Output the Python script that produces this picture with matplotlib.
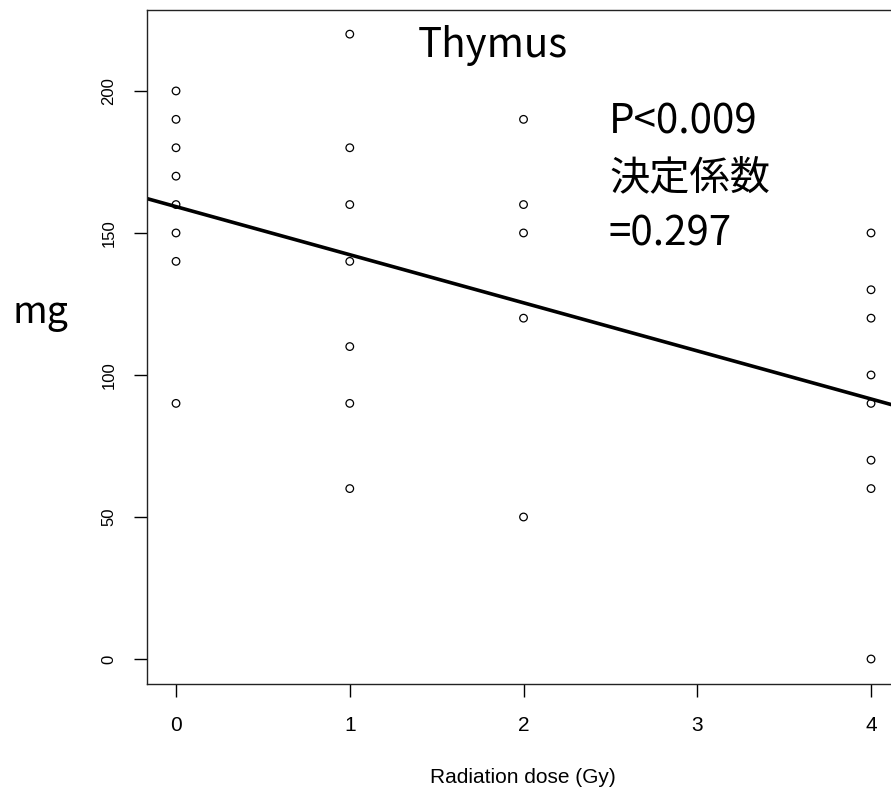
# Thymus weight vs radiation dose, with regression line
from matplotlib import pyplot as plt
import numpy as np

# data
dose_0 = [200, 190, 180, 170, 160, 150, 140, 90]
dose_1 = [220, 180, 160, 140, 110, 90, 60]
dose_2 = [190, 160, 150, 120, 50]
dose_4 = [150, 130, 120, 100, 90, 70, 60, 0]
doses = [0, 1, 2, 4]
x_ticks = [0, 1, 2, 3, 4]
y_ticks = [0, 50, 100, 150, 200]

x = np.concatenate([[d] * len(g) for d, g in zip(doses, [dose_0, dose_1, dose_2, dose_4])])
y = np.concatenate([dose_0, dose_1, dose_2, dose_4]).astype(float)

fig = plt.figure(figsize=(8.91, 7.95), dpi=100)
# axes runs past the right edge of the figure, like the cropped original
ax = fig.add_axes([147 / 891, 111 / 795, 760 / 891, 674 / 795])

ax.scatter(x, y, s=30, facecolors='none', edgecolors='black', linewidths=0.9, zorder=3)

# least squares fit
slope, intercept = np.polyfit(x, y, 1)
xs = np.array([-0.5, 4.5])
ax.plot(xs, intercept + slope * xs, color='black', linewidth=2.6, zorder=2)

ax.set_xlim(-0.167, 4.207)
ax.set_ylim(-8.8, 228.5)

ax.set_xticks(x_ticks)
ax.set_yticks(y_ticks)
ax.tick_params(direction='out', length=9.5, width=1)
ax.tick_params(axis='x', labelsize=15, pad=13.5)
ax.tick_params(axis='y', labelsize=12, pad=12.5)
for lab in ax.get_yticklabels():
    lab.set_rotation(90)
    lab.set_va('center')
for lab in ax.get_xticklabels() + ax.get_yticklabels():
    lab.set_family('Liberation Sans')

for sp in ax.spines.values():
    sp.set_linewidth(1.0)
    sp.set_color('#222222')

ax.set_xlabel('Radiation dose (Gy)', fontsize=15, family='Liberation Sans', va='center')
ax.xaxis.set_label_coords(0.495, -0.138)

cjk = ['Noto Sans CJK JP', 'DejaVu Sans']
fig.text(40 / 891, 1 - 312 / 795, 'mg', fontsize=27, family=cjk, ha='center', va='center')
fig.text(493 / 891, 1 - 45 / 795, 'Thymus', fontsize=29, family=cjk, ha='center', va='center')
fig.text(609 / 891, 1 - 122 / 795, 'P<0.009', fontsize=29, family=cjk, ha='left', va='center')
fig.text(609 / 891, 1 - 178 / 795, '決定係数', fontsize=29, family=cjk, ha='left', va='center')
fig.text(609 / 891, 1 - 234 / 795, '=0.297', fontsize=29, family=cjk, ha='left', va='center')

plt.savefig('out.png', dpi=100)
